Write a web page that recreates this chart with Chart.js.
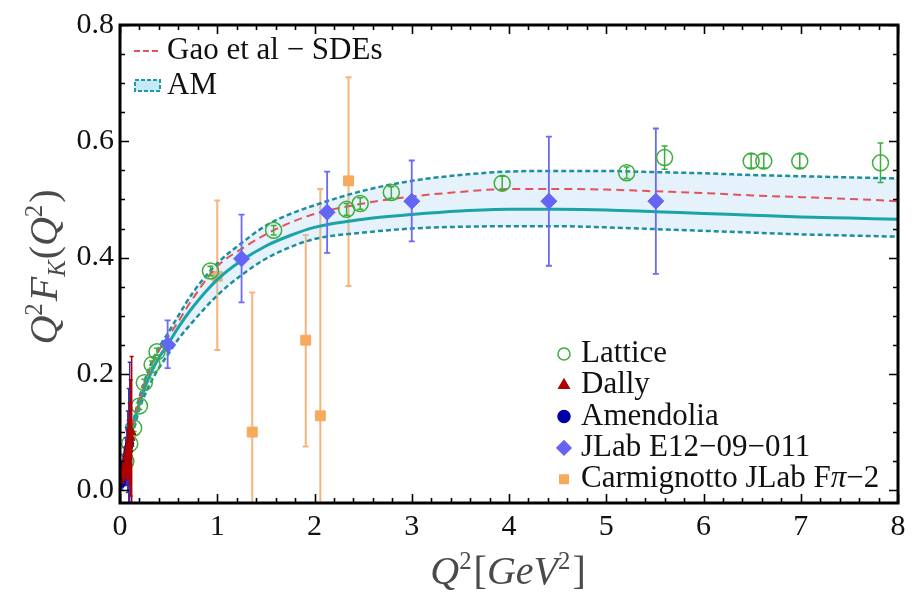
<!DOCTYPE html>
<html>
<head>
<meta charset="utf-8">
<script src="https://cdn.jsdelivr.net/npm/chart.js@4.4.1/dist/chart.umd.min.js"></script>
<style>
  html, body { margin: 0; padding: 0; background: #fff; }
</style>
</head>
<body>
<canvas id="myChart" width="916" height="595"></canvas>
<script>
// axis ticks
const xTicks = [0, 1, 2, 3, 4, 5, 6, 7, 8];
const yTicks = [0, 0.2, 0.4, 0.6, 0.8];

// curves
const curveX    = [0, 0.05, 0.1, 0.15, 0.2, 0.3, 0.4, 0.5, 0.6, 0.75, 1.0, 1.25, 1.5, 1.75, 2.0, 2.5, 3.0, 3.5, 4.0, 4.5, 5.0, 5.5, 6.0, 6.5, 7.0, 7.5, 8.0];
const gaoSDE    = [0, 0.05, 0.09, 0.125, 0.155, 0.205, 0.24, 0.265, 0.29, 0.33, 0.385, 0.415, 0.44, 0.46, 0.475, 0.493, 0.505, 0.513, 0.518, 0.518, 0.517, 0.514, 0.511, 0.507, 0.504, 0.501, 0.497];
const amCentral = [0, 0.045, 0.085, 0.12, 0.15, 0.195, 0.228, 0.253, 0.28, 0.315, 0.362, 0.395, 0.42, 0.438, 0.452, 0.466, 0.474, 0.48, 0.483, 0.483, 0.482, 0.479, 0.476, 0.473, 0.47, 0.468, 0.466];
const amUpper   = [0, 0.05, 0.09, 0.128, 0.16, 0.21, 0.245, 0.272, 0.3, 0.34, 0.39, 0.425, 0.455, 0.475, 0.49, 0.515, 0.532, 0.542, 0.548, 0.549, 0.549, 0.547, 0.545, 0.542, 0.54, 0.538, 0.536];
const amLower   = [0, 0.04, 0.078, 0.11, 0.14, 0.18, 0.21, 0.235, 0.26, 0.29, 0.335, 0.37, 0.398, 0.418, 0.432, 0.443, 0.45, 0.453, 0.454, 0.454, 0.452, 0.449, 0.446, 0.443, 0.44, 0.438, 0.436];

// Lattice
const latX   = [0.06, 0.1, 0.14, 0.2, 0.25, 0.33, 0.38, 0.93, 1.58, 2.33, 2.47, 2.79, 3.93, 5.21, 5.6, 6.49, 6.62, 6.99, 7.82];
const latY   = [0.05, 0.08, 0.107, 0.145, 0.185, 0.216, 0.238, 0.377, 0.447, 0.483, 0.493, 0.512, 0.528, 0.546, 0.572, 0.566, 0.566, 0.566, 0.563];
const latErr = [0.005, 0.005, 0.006, 0.006, 0.006, 0.006, 0.006, 0.008, 0.008, 0.01, 0.01, 0.01, 0.012, 0.01, 0.02, 0.012, 0.012, 0.012, 0.034];

// Dally
const dallyX   = [0.03, 0.04, 0.05, 0.06, 0.07, 0.08, 0.09, 0.1, 0.11, 0.12];
const dallyY   = [0.025, 0.032, 0.04, 0.048, 0.056, 0.064, 0.07, 0.08, 0.09, 0.1];
const dallyErr = [0.012, 0.015, 0.02, 0.025, 0.03, 0.04, 0.05, 0.07, 0.1, 0.13];

// Amendolia
const amenX   = [0.015, 0.02, 0.025, 0.03, 0.035, 0.04, 0.05, 0.06, 0.07, 0.08, 0.09, 0.1];
const amenY   = [0.012, 0.017, 0.022, 0.027, 0.03, 0.034, 0.044, 0.05, 0.058, 0.066, 0.075, 0.08];
const amenErr = [0.01, 0.012, 0.015, 0.018, 0.02, 0.025, 0.03, 0.04, 0.05, 0.07, 0.1, 0.14];

// JLab E12-09-011
const jlabX  = [0.49, 1.25, 2.13, 3.0, 4.41, 5.51];
const jlabY  = [0.25, 0.398, 0.478, 0.497, 0.497, 0.497];
const jlabLo = [0.21, 0.323, 0.408, 0.428, 0.386, 0.372];
const jlabHi = [0.292, 0.474, 0.548, 0.567, 0.608, 0.622];

// Carmignotto JLab Fpi-2
const carmX  = [1.0, 1.36, 1.91, 2.06, 2.35];
const carmY  = [0.368, 0.1, 0.258, 0.128, 0.532];
const carmLo = [0.241, -0.1, 0.075, -0.1, 0.351];
const carmHi = [0.498, 0.34, 0.439, 0.518, 0.71];

const pts = (xs, ys) => xs.map((v, i) => ({ x: v, y: ys[i] }));

const SERIF = '"Liberation Serif", "DejaVu Serif", serif';

// 에러바: 데이터셋마다 점보다 먼저 그린다
const errorBars = {
  id: 'errorBars',
  beforeDatasetDraw(chart, args) {
    const ds = chart.data.datasets[args.index];
    if (!ds.errLo) return;
    const { ctx, chartArea: a, scales: { x, y } } = chart;
    ctx.save();
    ctx.beginPath();
    ctx.rect(a.left, a.top, a.right - a.left, a.bottom - a.top);
    ctx.clip();
    ctx.strokeStyle = ds.errColor;
    ctx.lineWidth = ds.errWidth;
    const cap = ds.errCap;
    ds.data.forEach((p, i) => {
      const px = x.getPixelForValue(p.x);
      const t = y.getPixelForValue(ds.errHi[i]);
      const b = y.getPixelForValue(ds.errLo[i]);
      ctx.beginPath();
      ctx.moveTo(px, t); ctx.lineTo(px, b);
      if (cap > 0) {
        ctx.moveTo(px - cap, t); ctx.lineTo(px + cap, t);
        ctx.moveTo(px - cap, b); ctx.lineTo(px + cap, b);
      }
      ctx.stroke();
    });
    ctx.restore();
  }
};

// 프레임 + 안쪽 눈금
const frame = {
  id: 'frame',
  afterDraw(chart) {
    const { ctx, chartArea: a, scales: { x, y } } = chart;
    ctx.save();
    ctx.strokeStyle = '#000';
    ctx.lineWidth = 1.6;
    ctx.beginPath();
    for (let v = 0; v <= 8.0001; v += 0.2) {
      const major = Math.abs(v - Math.round(v)) < 1e-6;
      const len = major ? 9 : 5;
      const px = Math.round(x.getPixelForValue(v)) + 0.5;
      ctx.moveTo(px, a.bottom); ctx.lineTo(px, a.bottom - len);
      ctx.moveTo(px, a.top); ctx.lineTo(px, a.top + len);
    }
    for (let v = 0; v <= 0.8001; v += 0.05) {
      const major = Math.abs(v / 0.2 - Math.round(v / 0.2)) < 1e-6;
      const len = major ? 9 : 5;
      const py = Math.round(y.getPixelForValue(v)) + 0.5;
      ctx.moveTo(a.left, py); ctx.lineTo(a.left + len, py);
      ctx.moveTo(a.right, py); ctx.lineTo(a.right - len, py);
    }
    ctx.stroke();
    ctx.lineWidth = 3;
    ctx.strokeRect(a.left, a.top, a.right - a.left, a.bottom - a.top);
    ctx.restore();
  }
};

function drawRich(ctx, parts, x, y, size) {
  let cx = x;
  parts.forEach(p => {
    const fs = p.sup || p.sub ? size * 0.62 : size;
    ctx.font = (p.up ? '' : 'italic ') + fs + 'px ' + SERIF;
    const dy = p.sup ? -size * 0.38 : (p.sub ? size * 0.2 : 0);
    ctx.fillText(p.t, cx, y + dy);
    cx += ctx.measureText(p.t).width + (p.gap || 0);
  });
  return cx - x;
}

function richWidth(ctx, parts, size) {
  let w = 0;
  parts.forEach(p => {
    const fs = p.sup || p.sub ? size * 0.62 : size;
    ctx.font = (p.up ? '' : 'italic ') + fs + 'px ' + SERIF;
    w += ctx.measureText(p.t).width + (p.gap || 0);
  });
  return w;
}

const titles = {
  id: 'titles',
  afterDraw(chart) {
    const { ctx } = chart;
    ctx.save();
    ctx.fillStyle = '#4a4a4a';
    ctx.textBaseline = 'alphabetic';
    ctx.textAlign = 'left';
    const size = 40;
    const xt = [{ t: 'Q' }, { t: '2', sup: true, gap: 2, up: true }, { t: '[', up: true }, { t: 'GeV' }, { t: '2', sup: true, gap: 2, up: true }, { t: ']', up: true }];
    const xw = richWidth(ctx, xt, size);
    drawRich(ctx, xt, 508 - xw / 2, 584, size);

    const yt = [{ t: 'Q' }, { t: '2', sup: true, gap: 2, up: true }, { t: 'F' }, { t: 'K', sub: true, gap: 1 }, { t: '(', up: true }, { t: 'Q' }, { t: '2', sup: true, gap: 2, up: true }, { t: ')', up: true }];
    const yw = richWidth(ctx, yt, size);
    ctx.translate(57, 267);
    ctx.rotate(-Math.PI / 2);
    drawRich(ctx, yt, -yw / 2, 0, size);
    ctx.restore();
  }
};

const legends = {
  id: 'legends',
  afterDraw(chart) {
    const { ctx } = chart;
    ctx.save();
    ctx.fillStyle = '#111';
    ctx.textBaseline = 'middle';
    const LF = '31px ' + SERIF;
    ctx.font = LF;

    // top-left
    ctx.strokeStyle = '#e4525a';
    ctx.lineWidth = 2;
    ctx.setLineDash([6, 3]);
    ctx.beginPath(); ctx.moveTo(134, 51); ctx.lineTo(161, 51); ctx.stroke();
    ctx.fillText('Gao et al \u2212 SDEs', 167, 51);

    ctx.fillStyle = 'rgba(150, 215, 240, 0.55)';
    ctx.fillRect(135, 80, 25, 11);
    ctx.strokeStyle = '#1f9aa3';
    ctx.lineWidth = 2;
    ctx.setLineDash([4, 2]);
    ctx.strokeRect(135, 80, 25, 11);
    ctx.setLineDash([]);
    ctx.fillStyle = '#111';
    ctx.fillText('AM', 167, 86);

    // bottom-right
    const rows = [
      { label: 'Lattice', style: 'circle', fill: 'rgba(0,0,0,0)', stroke: '#3cae3a', r: 6 },
      { label: 'Dally', style: 'triangle', fill: '#b00000', stroke: '#b00000', r: 6 },
      { label: 'Amendolia', style: 'circle', fill: '#0000a8', stroke: '#0000a8', r: 6 },
      { label: 'JLab E12\u221209\u2212011', style: 'rectRot', fill: '#6464f5', stroke: '#6464f5', r: 7 },
      { label: 'Carmignotto JLab F', style: 'rect', fill: '#f7a95c', stroke: '#f7a95c', r: 6 }
    ];
    rows.forEach((row, i) => {
      const cy = 354 + i * 31.3;
      ctx.fillStyle = row.fill;
      ctx.strokeStyle = row.stroke;
      ctx.lineWidth = 1.5;
      Chart.helpers.drawPoint(ctx, { pointStyle: row.style, radius: row.r, borderWidth: 1.5, rotation: 0 }, 564, cy);
      ctx.fillStyle = '#111';
      ctx.font = LF;
      ctx.fillText(row.label, 581, cy);
      if (i === 4) {
        let w = ctx.measureText(row.label).width;
        ctx.font = 'italic ' + LF;
        ctx.fillText('\u03c0', 581 + w, cy);
        w += ctx.measureText('\u03c0').width;
        ctx.font = LF;
        ctx.fillText('\u22122', 581 + w, cy);
      }
    });
    ctx.restore();
  }
};

const chartArea = document.getElementById('myChart').getContext('2d');

const myChart = new Chart(chartArea, {
  type: 'scatter',
  data: {
    datasets: [
      {
        label: 'Amendolia', order: 2,
        data: pts(amenX, amenY),
        pointStyle: 'circle', pointRadius: 4,
        backgroundColor: '#0000a8', borderColor: '#0000a8',
        errLo: amenY.map((v, i) => v - amenErr[i]), errHi: amenY.map((v, i) => v + amenErr[i]),
        errColor: '#3a30b8', errWidth: 1.5, errCap: 2
      },
      {
        label: 'Dally', order: 1,
        data: pts(dallyX, dallyY),
        pointStyle: 'triangle', pointRadius: 5,
        backgroundColor: '#b00000', borderColor: '#b00000',
        errLo: dallyY.map((v, i) => v - dallyErr[i]), errHi: dallyY.map((v, i) => v + dallyErr[i]),
        errColor: '#b00000', errWidth: 1.5, errCap: 2
      },
      {
        label: 'Lattice', order: 3,
        data: pts(latX, latY),
        pointStyle: 'circle', pointRadius: 8,
        backgroundColor: 'rgba(0,0,0,0)', borderColor: '#3cae3a', borderWidth: 1.5,
        errLo: latY.map((v, i) => v - latErr[i]), errHi: latY.map((v, i) => v + latErr[i]),
        errColor: '#3cae3a', errWidth: 1.5, errCap: 3
      },
      {
        label: 'JLab E12-09-011', order: 4,
        data: pts(jlabX, jlabY),
        pointStyle: 'rectRot', pointRadius: 8,
        backgroundColor: '#6464f5', borderColor: '#6464f5',
        errLo: jlabLo, errHi: jlabHi,
        errColor: '#6a6af5', errWidth: 1.8, errCap: 3
      },
      {
        type: 'line', label: 'Gao et al - SDEs', order: 5,
        data: pts(curveX, gaoSDE),
        borderColor: '#e4525a', borderWidth: 2, borderDash: [8, 5],
        pointRadius: 0, cubicInterpolationMode: 'monotone', fill: false
      },
      {
        type: 'line', label: 'AM', order: 6,
        data: pts(curveX, amCentral),
        borderColor: '#1aa3a8', borderWidth: 3,
        pointRadius: 0, cubicInterpolationMode: 'monotone', fill: false
      },
      {
        type: 'line', label: 'AM upper', order: 7,
        data: pts(curveX, amUpper),
        borderColor: '#1d8f9c', borderWidth: 2.5, borderDash: [5, 3],
        pointRadius: 0, cubicInterpolationMode: 'monotone', fill: false
      },
      {
        type: 'line', label: 'AM lower', order: 8,
        data: pts(curveX, amLower),
        borderColor: '#1d8f9c', borderWidth: 2.5, borderDash: [5, 3],
        pointRadius: 0, cubicInterpolationMode: 'monotone',
        fill: { target: 6 }, backgroundColor: 'rgba(160, 205, 240, 0.28)'
      },
      {
        label: 'Carmignotto JLab Fpi-2', order: 9,
        data: pts(carmX, carmY),
        pointStyle: 'rect', pointRadius: 7,
        backgroundColor: '#f7a95c', borderColor: '#f7a95c',
        errLo: carmLo, errHi: carmHi,
        errColor: '#f6b47a', errWidth: 2, errCap: 3
      }
    ]
  },
  options: {
    responsive: false,
    animation: false,
    devicePixelRatio: 1,
    layout: { padding: { top: 25, right: 18, left: 0, bottom: 0 } },
    scales: {
      x: {
        type: 'linear', min: 0, max: 8,
        afterBuildTicks: s => { s.ticks = xTicks.map(v => ({ value: v })); },
        afterFit: s => { s.height = 92; },
        ticks: { color: '#111', font: { family: SERIF, size: 30 }, padding: 6, maxRotation: 0 },
        grid: { display: false, drawTicks: false },
        border: { display: false }
      },
      y: {
        type: 'linear', min: -0.022, max: 0.8,
        afterBuildTicks: s => { s.ticks = yTicks.map(v => ({ value: v })); },
        afterFit: s => { s.width = 120; },
        ticks: { color: '#111', font: { family: SERIF, size: 30 }, padding: 6, callback: v => v.toFixed(1) },
        grid: { display: false, drawTicks: false },
        border: { display: false }
      }
    },
    plugins: {
      legend: { display: false },
      tooltip: { enabled: false }
    }
  },
  plugins: [errorBars, frame, titles, legends]
});
</script>
</body>
</html>
